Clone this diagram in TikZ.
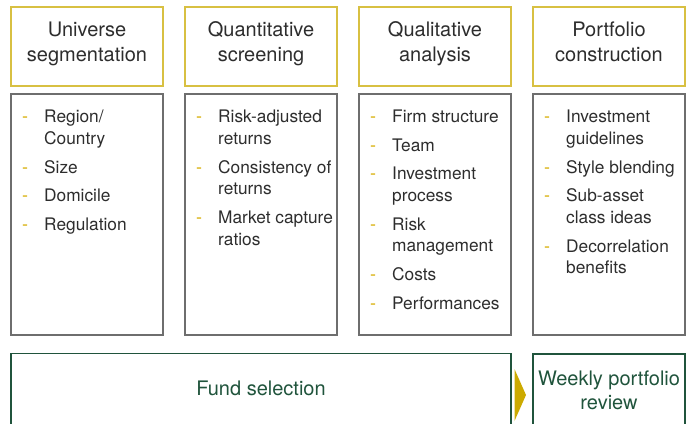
\documentclass[tikz,border=0pt]{standalone}
\usepackage{fontspec}
\setmainfont{TeX Gyre Heros}
\definecolor{hdrgold}{RGB}{216,192,66}
\definecolor{dashgold}{RGB}{214,172,0}
\definecolor{arrowgold}{RGB}{204,170,0}
\definecolor{boxgray}{RGB}{110,110,110}
\definecolor{txt}{RGB}{45,45,45}
\definecolor{dkgreen}{RGB}{32,84,60}
\begin{document}
\begin{tikzpicture}[x=1pt,y=-1pt,
  hdrbox/.style={draw=hdrgold,line width=1.3pt},
  bodybox/.style={draw=boxgray,line width=1.1pt},
  greenbox/.style={draw=dkgreen,line width=1.1pt},
  hdr/.style={anchor=base,align=center,inner sep=0pt,text=txt,font={\fontsize{20}{25}\selectfont}},
  itm/.style={anchor=base west,align=left,inner sep=0pt,text=txt,font={\fontsize{17.3}{21.5}\selectfont}},
  dsh/.style={anchor=base west,inner sep=0pt,text=dashgold,font={\fontsize{18}{21.5}\selectfont}},
  grn/.style={anchor=base,align=center,inner sep=0pt,text=dkgreen,font={\fontsize{20}{24}\selectfont}}]
\useasboundingbox (0,0) rectangle (688,423);
\clip (0,0) rectangle (688,423);
% header boxes
\draw[hdrbox] (11,7) rectangle (163,86);
\draw[hdrbox] (185,7) rectangle (337,86);
\draw[hdrbox] (359,7) rectangle (511,86);
\draw[hdrbox] (533,7) rectangle (685,86);
% (base anchor of a two-line node = baseline of its last line)
\node[hdr] (h1) at (87,61.5) {Universe\\segmentation};
\node[hdr] (h2) at (261,61.5) {Quantitative\\screening};
\node[hdr] (h3) at (435,61.5) {Qualitative\\analysis};
\node[hdr] (h4) at (609,61.5) {Portfolio\\construction};
% body boxes
\draw[bodybox] (11,94) rectangle (163,335);
\draw[bodybox] (185,94) rectangle (337,335);
\draw[bodybox] (359,94) rectangle (511,335);
\draw[bodybox] (533,94) rectangle (685,335);
% column 1
\node[dsh] (d11) at (22,122.7) {-};  \node[itm] (i11) at (44,144.2) {Region/\\Country};
\node[dsh] (d12) at (22,173.2) {-};  \node[itm] (i12) at (44,173.2) {Size};
\node[dsh] (d13) at (22,201.7) {-};  \node[itm] (i13) at (44,201.7) {Domicile};
\node[dsh] (d14) at (22,230.2) {-};  \node[itm] (i14) at (44,230.2) {Regulation};
% column 2
\node[dsh] (d21) at (196,122.7) {-};  \node[itm] (i21) at (218,144.2) {Risk-adjusted\\returns};
\node[dsh] (d22) at (196,173.2) {-};  \node[itm] (i22) at (218,194.7) {Consistency of\\returns};
\node[dsh] (d23) at (196,223.7) {-};  \node[itm] (i23) at (218,245.2) {Market capture\\ratios};
% column 3
\node[dsh] (d31) at (370,122.7) {-};  \node[itm] (i31) at (392,122.7) {Firm structure};
\node[dsh] (d32) at (370,151.2) {-};  \node[itm] (i32) at (392,151.2) {Team};
\node[dsh] (d33) at (370,179.7) {-};  \node[itm] (i33) at (392,201.2) {Investment\\process};
\node[dsh] (d34) at (370,230.2) {-};  \node[itm] (i34) at (392,251.7) {Risk\\management};
\node[dsh] (d35) at (370,280.7) {-};  \node[itm] (i35) at (392,280.7) {Costs};
\node[dsh] (d36) at (370,309.2) {-};  \node[itm] (i36) at (392,309.2) {Performances};
% column 4
\node[dsh] (d41) at (544,122.7) {-};  \node[itm] (i41) at (566,144.2) {Investment\\guidelines};
\node[dsh] (d42) at (544,173.2) {-};  \node[itm] (i42) at (566,173.2) {Style blending};
\node[dsh] (d43) at (544,201.7) {-};  \node[itm] (i43) at (566,223.2) {Sub-asset\\class ideas};
\node[dsh] (d44) at (544,252.2) {-};  \node[itm] (i44) at (566,273.7) {Decorrelation\\benefits};
% bottom row
\draw[greenbox] (11,353.5) rectangle (511,440);
\draw[greenbox] (533,354) rectangle (685,440);
\node[grn] (fund) at (261,395) {Fund selection};
\node[grn] (weekly) at (609,409) {Weekly portfolio\\review};
\fill[arrowgold] (514.5,369) -- (526,395) -- (514.5,421) -- cycle;
\end{tikzpicture}
\end{document}
